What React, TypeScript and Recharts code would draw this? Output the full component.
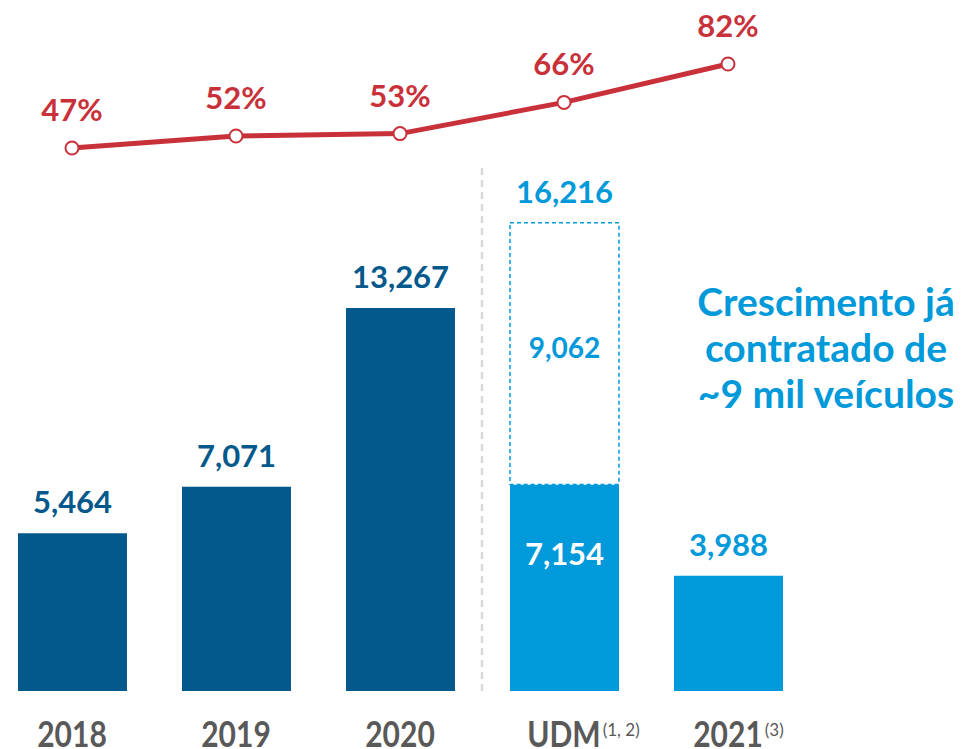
import React from 'react';
import { ComposedChart, Bar, Line, XAxis, YAxis, Cell, LabelList, ReferenceLine } from 'recharts';

// ---- data ----
const categories = ['2018', '2019', '2020', 'UDM', '2021'];
const footnotes = ['', '', '', '(1, 2)', '(3)'];
const vehicles = [5464, 7071, 13267, 7154, 3988];
const contracted: (number | null)[] = [null, null, null, 9062, null];
const sharePct = [47, 52, 53, 66, 82];
const annotationLines = ['Crescimento já', 'contratado de', '~9 mil veículos'];

const data = categories.map((cat, i) => ({
  cat,
  vehicles: vehicles[i],
  contracted: contracted[i],
  share: sharePct[i],
}));

// ---- style ----
const FONT = 'Lato, "Open Sans", sans-serif';
const DARK = '#03598B';
const LIGHT = '#0099DA';
const RED = '#C9313A';
const GRAY = '#595959';

const fmt = (v: number) => v.toLocaleString('en-US');

let ctx: CanvasRenderingContext2D | null = null;
function measure(text: string, font: string) {
  if (!ctx) ctx = document.createElement('canvas').getContext('2d');
  if (!ctx) return text.length * 16;
  ctx.font = font;
  return ctx.measureText(text).width;
}

const CategoryTick = (props: any) => {
  const { x, y, payload } = props;
  const idx = payload?.index ?? props.index ?? 0;
  const label = String(payload.value);
  const note = footnotes[idx];
  const w = measure(label, `700 30px Lato`);
  return (
    <g>
      <text
        transform={`translate(${x},${y + 56}) scale(1,1.2)`}
        x={0}
        y={0}
        textAnchor="middle"
        fontFamily={FONT}
        fontSize={30}
        fontWeight={700}
        fill={GRAY}
      >
        {label}
      </text>
      {note ? (
        <text x={x + w / 2 + 2} y={y + 45} textAnchor="start" fontFamily={FONT} fontSize={17} fill={GRAY}>
          {note}
        </text>
      ) : null}
    </g>
  );
};

const VehicleLabel = (props: any) => {
  const { x, y, width, value, index } = props;
  const cx = x + width / 2;
  if (index === 3) {
    return (
      <text x={cx} y={y + 70 + 11} textAnchor="middle" fontFamily={FONT} fontSize={31} fontWeight={700} fill="#ffffff">
        {fmt(value)}
      </text>
    );
  }
  const color = index < 3 ? DARK : LIGHT;
  return (
    <text x={cx} y={y - 20} textAnchor="middle" fontFamily={FONT} fontSize={31} fontWeight={700} fill={color}>
      {fmt(value)}
    </text>
  );
};

const ContractedLabel = (props: any) => {
  const { x, y, width, height, value } = props;
  if (value == null) return null;
  const cx = x + width / 2;
  const i = contracted.indexOf(value);
  const total = (i >= 0 ? vehicles[i] : 0) + value;
  return (
    <g>
      <text x={cx} y={y - 20} textAnchor="middle" fontFamily={FONT} fontSize={31} fontWeight={700} fill={LIGHT}>
        {fmt(total)}
      </text>
      <text x={cx} y={y + height / 2 + 4} textAnchor="middle" fontFamily={FONT} fontSize={28} fontWeight={700} fill={LIGHT}>
        {fmt(value)}
      </text>
    </g>
  );
};

const ShareLabel = (props: any) => {
  const { x, y, value } = props;
  return (
    <text x={x} y={y - 27} textAnchor="middle" fontFamily={FONT} fontSize={31} fontWeight={700} fill={RED}>
      {`${value}%`}
    </text>
  );
};

export default function App() {
  return (
    <div style={{ position: 'absolute', left: 0, top: 0, width: 961, height: 749, overflow: 'hidden' }}>
      <div style={{ position: 'absolute', left: -10, top: 0, width: 971, height: 749 }}>
        <ComposedChart
          width={971}
          height={749}
          data={data}
          margin={{ top: 0, right: 151, bottom: 0, left: 0 }}
        >
          <XAxis
            dataKey="cat"
            height={58}
            tickLine={false}
            axisLine={false}
            tickSize={0}
            tickMargin={0}
            interval={0}
            tick={<CategoryTick />}
          />
          <YAxis yAxisId="bars" hide domain={[0, 23936]} />
          <YAxis yAxisId="pct" hide domain={[-179.25, 108.67]} />
          <ReferenceLine
            yAxisId="bars"
            segment={[{ x: 'UDM', y: 0 }, { x: 'UDM', y: 18200 }]}
            position="start"
            stroke="#D9D9D9"
            strokeWidth={2.5}
            strokeDasharray="7 5"
          />
          <Bar yAxisId="bars" dataKey="vehicles" stackId="s" barSize={109} isAnimationActive={false}>
            {data.map((d, i) => (
              <Cell key={d.cat} fill={i < 3 ? DARK : LIGHT} />
            ))}
            <LabelList dataKey="vehicles" content={<VehicleLabel />} />
          </Bar>
          <Bar
            yAxisId="bars"
            dataKey="contracted"
            stackId="s"
            barSize={109}
            fill="#ffffff"
            stroke={LIGHT}
            strokeWidth={1.5}
            strokeDasharray="4 3"
            isAnimationActive={false}
          >
            <LabelList dataKey="contracted" content={<ContractedLabel />} />
          </Bar>
          <Line
            yAxisId="pct"
            dataKey="share"
            stroke={RED}
            strokeWidth={5}
            dot={{ r: 6.5, fill: '#ffffff', stroke: RED, strokeWidth: 2 }}
            activeDot={false}
            isAnimationActive={false}
          >
            <LabelList dataKey="share" content={<ShareLabel />} />
          </Line>
        </ComposedChart>
      </div>
      <div
        style={{
          position: 'absolute',
          left: 676,
          top: 278,
          width: 300,
          textAlign: 'center',
          fontFamily: FONT,
          fontWeight: 700,
          fontSize: 39,
          lineHeight: '46px',
          color: LIGHT,
          whiteSpace: 'nowrap',
        }}
      >
        {annotationLines.map((l) => (
          <div key={l}>{l}</div>
        ))}
      </div>
    </div>
  );
}
